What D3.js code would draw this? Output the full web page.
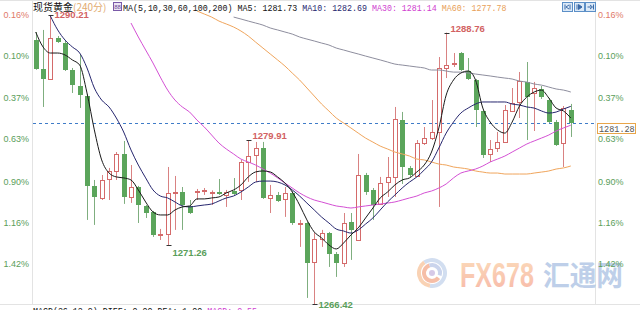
<!DOCTYPE html>
<html lang="zh">
<head>
<meta charset="UTF-8">
<title>现货黄金 240分</title>
<style>
  body { margin: 0; background: #ffffff; }
  #chart { width: 640px; height: 310px; overflow: hidden; }
  text { font-family: "Liberation Sans", Arial, sans-serif; }
  .mono { font-family: "Liberation Mono", "DejaVu Sans Mono", monospace; }
  .cjk { font-family: "Noto Sans CJK SC", sans-serif; }
</style>
</head>
<body>
<div id="chart"></div>
<script src="https://d3js.org/d3.v7.min.js"></script>
<script>
// ---- candle data (240 minute bars, oldest first) ----
const opens = [1288.15,1285.77,1284.94,1288.32,1287.91,1285.68,1284.37,1283.54,1276.14,1275.15,
  1276.71,1277.37,1278.77,1275.23,1276.05,1274.49,1274.00,1272.10,1272.19,1275.52,
  1275.64,1274.49,1275.64,1275.68,1275.60,1275.64,1275.40,1275.73,1275.81,1278.11,
  1278.69,1279.26,1275.15,1275.40,1275.07,1275.56,1273.01,1273.09,1269.88,1271.77,
  1272.27,1270.54,1269.80,1273.17,1271.69,1277.04,1275.81,1274.66,1276.47,1276.88,
  1281.57,1277.62,1276.96,1279.68,1280.09,1280.58,1285.85,1286.18,1287.08,1285.60,
  1284.86,1282.31,1278.77,1279.26,1279.76,1282.31,1283.05,1284.70,1283.79,1284.12,
  1283.21,1281.40,1279.68,1282.39];
const closes = [1285.77,1284.94,1288.32,1287.99,1285.68,1284.45,1283.63,1276.14,1275.23,1276.63,
  1277.37,1278.77,1275.23,1276.05,1274.57,1273.91,1272.10,1272.19,1275.56,1275.60,
  1274.57,1273.91,1275.73,1275.77,1275.68,1275.48,1275.64,1275.48,1278.11,1278.61,
  1279.26,1275.15,1275.40,1274.90,1275.56,1273.09,1273.09,1269.80,1271.77,1272.27,
  1270.54,1269.80,1273.09,1272.52,1277.04,1275.64,1274.57,1276.38,1276.88,1281.65,
  1277.70,1277.04,1279.68,1280.09,1280.58,1285.85,1286.09,1286.26,1285.68,1284.94,
  1282.39,1278.69,1279.18,1279.76,1282.39,1282.97,1284.78,1283.46,1284.20,1283.46,
  1281.40,1279.51,1282.56,1281.28];
const highs = [1288.81,1288.98,1290.21,1288.48,1288.07,1285.85,1286.92,1283.71,1276.63,1277.04,
  1277.62,1278.93,1279.84,1277.86,1276.14,1274.57,1274.08,1272.60,1277.70,1276.96,
  1276.05,1274.98,1275.89,1275.97,1275.77,1276.71,1275.81,1276.79,1278.28,1279.91,
  1279.76,1279.76,1276.22,1275.64,1276.05,1275.73,1273.34,1273.17,1272.27,1272.52,
  1272.35,1270.70,1273.91,1273.91,1278.77,1277.21,1275.97,1276.88,1278.52,1282.64,
  1282.23,1277.78,1279.92,1280.99,1283.21,1286.75,1288.76,1287.08,1287.16,1286.67,
  1284.94,1282.39,1279.92,1280.58,1282.80,1284.20,1285.52,1286.34,1284.70,1284.37,
  1283.38,1281.57,1282.72,1282.89];
const lows = [1285.70,1282.64,1284.90,1287.91,1285.60,1283.79,1282.56,1273.34,1272.93,1274.98,
  1274.98,1276.63,1274.66,1274.74,1273.09,1273.50,1271.94,1271.69,1271.26,1272.52,
  1272.52,1273.83,1274.98,1275.40,1274.57,1275.40,1274.41,1275.40,1274.98,1276.47,
  1276.47,1275.07,1273.91,1274.82,1273.59,1272.93,1271.12,1266.92,1266.42,1271.12,
  1269.47,1268.65,1269.47,1270.05,1271.61,1275.40,1273.34,1274.57,1275.23,1275.23,
  1276.30,1276.88,1276.88,1279.51,1279.92,1274.41,1285.02,1285.93,1285.60,1284.86,
  1280.99,1278.44,1278.11,1278.93,1279.68,1282.23,1281.73,1279.92,1280.66,1283.30,
  1281.32,1279.43,1277.70,1280.17];

// ---- moving averages as drawn (start = index of first visible bar) ----
const ma5Start = 0;
const ma5 = [1288.81,1287.58,1287.08,1287.08,1286.92,1286.51,1286.09,1283.79,1280.75,1278.28,
  1277.21,1276.88,1276.80,1276.63,1275.81,1274.82,1274.00,1273.75,1273.75,1274.16,
  1274.41,1274.49,1275.07,1275.07,1275.15,1275.23,1275.56,1275.81,1276.22,1276.88,
  1277.29,1277.37,1277.29,1276.88,1276.38,1275.64,1274.57,1273.34,1272.35,1271.86,
  1271.28,1270.95,1271.44,1272.10,1272.68,1273.50,1274.32,1275.15,1275.64,1276.22,
  1276.63,1276.80,1277.29,1277.86,1278.93,1280.91,1283.62,1284.86,1285.43,1285.60,
  1284.86,1282.55,1281.40,1280.75,1280.49,1281.40,1282.72,1283.46,1283.87,1284.03,
  1283.38,1282.55,1282.31,1281.73];
const ma10Start = 2;
const ma10 = [1290.13,1288.98,1288.15,1287.58,1287.08,1285.85,1284.20,1283.21,1282.64,1281.73,
  1280.58,1279.10,1277.86,1276.80,1275.81,1275.31,1275.15,1274.82,1274.49,1274.41,
  1274.49,1274.57,1274.65,1274.90,1275.15,1275.31,1275.64,1276.05,1276.46,1276.54,
  1276.54,1276.46,1276.22,1275.81,1275.31,1274.73,1274.16,1273.58,1273.09,1272.59,
  1272.43,1272.26,1272.51,1273.00,1273.50,1274.16,1274.82,1275.39,1275.97,1276.46,
  1276.88,1277.45,1278.11,1279.26,1280.49,1281.40,1282.14,1282.55,1282.88,1283.05,
  1283.05,1283.05,1283.05,1282.88,1282.80,1282.64,1282.55,1282.31,1282.14,1282.22,
  1282.47,1282.69];
const ma30Start = 13;
const ma30 = [1289.55,1288.40,1287.33,1286.26,1285.10,1284.03,1283.21,1282.64,1282.22,1281.56,
  1280.99,1280.33,1279.67,1279.18,1278.77,1278.35,1278.11,1277.86,1277.53,1277.20,
  1276.80,1276.38,1275.97,1275.56,1275.23,1274.98,1274.82,1274.65,1274.49,1274.41,
  1274.32,1274.41,1274.49,1274.57,1274.65,1274.73,1274.82,1274.98,1275.15,1275.31,
  1275.56,1275.72,1275.97,1276.30,1276.80,1277.20,1277.37,1277.53,1277.78,1278.11,
  1278.35,1278.60,1278.93,1279.26,1279.59,1279.84,1280.08,1280.33,1280.66,1280.91,
  1281.14];
const ma60Start = 22;
const ma60 = [1290.54,1290.29,1290.04,1289.71,1289.47,1289.22,1288.89,1288.48,1287.98,1287.49,
  1287.00,1286.51,1286.01,1285.43,1284.86,1284.20,1283.54,1282.88,1282.31,1281.73,
  1281.32,1280.91,1280.49,1280.08,1279.75,1279.42,1279.18,1278.93,1278.77,1278.60,
  1278.35,1278.28,1278.11,1277.94,1277.86,1277.70,1277.62,1277.53,1277.37,1277.28,
  1277.20,1277.20,1277.12,1277.12,1277.12,1277.12,1277.20,1277.28,1277.37,1277.53,
  1277.62,1277.78];
const ma100Start = 27;
const ma100 = [1290.04,1289.88,1289.71,1289.55,1289.38,1289.14,1288.98,1288.81,1288.64,1288.40,
  1288.23,1288.07,1287.90,1287.74,1287.49,1287.33,1287.16,1287.00,1286.83,1286.67,
  1286.51,1286.34,1286.17,1286.09,1286.01,1285.93,1285.85,1285.68,1285.68,1285.60,
  1285.51,1285.51,1285.43,1285.35,1285.27,1285.19,1285.10,1285.02,1284.94,1284.77,
  1284.69,1284.53,1284.44,1284.28,1284.12,1284.03,1283.87];

// ---- marked extremes ----
const extremes = [
  { i: 2, v: 1290.21, kind: "high" },
  { i: 56, v: 1288.76, kind: "high" },
  { i: 29, v: 1279.91, kind: "high" },
  { i: 18, v: 1271.26, kind: "low" },
  { i: 38, v: 1266.42, kind: "low" }
];

// ---- percent axis ticks ----
const pctTicks = [0.16, -0.10, -0.37, -0.63, -0.90, -1.16, -1.42];

const W = 640, H = 310;
const plot = { left: 33, right: 596, top: 0, bottom: 305 };
const upColor = "#d46a6a", downColor = "#5ba55b", downWick = "#7fae7f";
const fmt = d3.format(".2f");

const svg = d3.select("#chart").append("svg")
    .attr("width", W)
    .attr("height", H);

const idx = d3.range(opens.length);
const x = d3.scalePoint().domain(idx).range([35.7, 570.8]);
const y = d3.scaleLinear().domain([1290.21, 1266.42]).range([15, 304]);
const yPct = d3.scaleLinear().domain([0.16, -1.42]).range([14.5, 263.5]);

svg.append("defs").append("clipPath").attr("id", "clip")
  .append("rect")
    .attr("x", plot.left).attr("y", plot.top)
    .attr("width", plot.right - plot.left).attr("height", plot.bottom - plot.top);

// frame
const frame = svg.append("g").attr("stroke", "#e3e3e3").attr("stroke-width", 1);
frame.append("line").attr("x1", 0).attr("x2", W).attr("y1", 0.5).attr("y2", 0.5);
frame.append("line").attr("x1", plot.left - 0.5).attr("x2", plot.left - 0.5).attr("y1", 0).attr("y2", plot.bottom);
frame.append("line").attr("x1", plot.right - 0.5).attr("x2", plot.right - 0.5).attr("y1", 0).attr("y2", plot.bottom);
frame.append("line").attr("x1", 0).attr("x2", W).attr("y1", plot.bottom - 0.5).attr("y2", plot.bottom - 0.5);

// watermark (behind everything)
const wm = svg.append("g").attr("opacity", 0.75);
const logo = wm.append("g").attr("transform", "translate(432,273)");
logo.append("path").attr("d", d3.arc()({ innerRadius: 11, outerRadius: 15, startAngle: -0.2 * Math.PI, endAngle: 1.05 * Math.PI })).attr("fill", "#c3d3ec");
logo.append("path").attr("d", d3.arc()({ innerRadius: 11, outerRadius: 15, startAngle: 1.05 * Math.PI, endAngle: 1.8 * Math.PI })).attr("fill", "#f7c49c");
logo.append("path").attr("d", d3.arc()({ innerRadius: 6, outerRadius: 10, startAngle: 0.7 * Math.PI, endAngle: 1.9 * Math.PI })).attr("fill", "#f4a98a");
logo.append("path").attr("d", d3.arc()({ innerRadius: 6, outerRadius: 10, startAngle: -0.1 * Math.PI, endAngle: 0.6 * Math.PI })).attr("fill", "#b9c6e6");
logo.append("circle").attr("r", 3).attr("fill", "#c9b8e0");

const grad = svg.select("defs").append("linearGradient").attr("id", "fxgrad")
    .attr("x1", 0).attr("x2", 0).attr("y1", 0).attr("y2", 1);
grad.append("stop").attr("offset", "0%").attr("stop-color", "#fbd2a4");
grad.append("stop").attr("offset", "100%").attr("stop-color", "#f5a08c");
wm.append("text")
    .attr("x", 460).attr("y", 287)
    .attr("textLength", 74).attr("lengthAdjust", "spacingAndGlyphs")
    .style("font-size", "35px").style("font-weight", "bold")
    .attr("fill", "url(#fxgrad)")
    .text("FX678");
wm.append("text")
    .attr("class", "cjk")
    .attr("x", 543).attr("y", 286)
    .attr("textLength", 80).attr("lengthAdjust", "spacingAndGlyphs")
    .style("font-size", "28px").style("font-weight", "bold")
    .attr("fill", "#a9bfe2")
    .text("汇通网");

// current price dashed line
const last = closes[closes.length - 1];
svg.append("line")
    .attr("x1", plot.left).attr("x2", plot.right)
    .attr("y1", Math.round(y(last)) + 0.5).attr("y2", Math.round(y(last)) + 0.5)
    .attr("stroke", "#3f7cc8").attr("stroke-dasharray", "3,3");

// candles
const body = svg.append("g").attr("clip-path", "url(#clip)");
const candle = body.selectAll("g.candle").data(idx).join("g").attr("class", "candle");
const cx = i => Math.round(x(i)) + 0.5;
const isUp = i => closes[i] >= opens[i];

candle.append("line")
    .attr("x1", cx).attr("x2", cx)
    .attr("y1", i => y(highs[i])).attr("y2", i => y(lows[i]))
    .attr("stroke", i => isUp(i) ? "#d98282" : downWick);

candle.filter(isUp).append("rect")
    .attr("x", i => cx(i) - 2)
    .attr("width", 4)
    .attr("y", i => Math.round(y(closes[i])) + 0.5)
    .attr("height", i => Math.max(1, Math.round(y(opens[i]) - y(closes[i]))))
    .attr("fill", "#ffffff")
    .attr("stroke", upColor);

candle.filter(i => !isUp(i)).append("rect")
    .attr("x", i => cx(i) - 2.5)
    .attr("width", 5)
    .attr("y", i => Math.round(y(opens[i])))
    .attr("height", i => Math.max(1.5, Math.round(y(closes[i]) - y(opens[i]))))
    .attr("fill", downColor);

// moving averages
const maSeries = [
  { values: ma100, start: ma100Start, color: "#8e8e9e" },
  { values: ma60, start: ma60Start, color: "#f0a55c" },
  { values: ma30, start: ma30Start, color: "#d450d4" },
  { values: ma10, start: ma10Start, color: "#26266e" },
  { values: ma5, start: ma5Start, color: "#1a1a1a" }
];
maSeries.forEach(s => {
  const line = d3.line()
      .x((v, j) => x(s.start + j))
      .y(v => y(v))
      .curve(d3.curveMonotoneX);
  body.append("path")
      .attr("d", line(s.values))
      .attr("fill", "none")
      .attr("stroke", s.color)
      .attr("stroke-width", 1);
});

// extreme markers + labels
const ex = svg.append("g");
extremes.forEach(e => {
  const px = cx(e.i), py = Math.round(y(e.v)) + 0.5;
  ex.append("line").attr("x1", px - 2).attr("x2", px + 3).attr("y1", py).attr("y2", py)
      .attr("stroke", "#333");
  const ty = e.kind === "high" ? Math.max(py - 2, 18) : Math.min(py + 10, 308);
  ex.append("text")
      .attr("x", px + 4).attr("y", ty)
      .style("font-size", "9.5px").style("font-weight", "bold")
      .attr("fill", e.kind === "high" ? "#d26262" : "#5a9e5a")
      .text(fmt(e.v));
});

// percent axes
const pctFmt = v => fmt(Math.abs(v)) + "%";
const pctColor = v => v > 0 ? "#e07a6a" : "#5a9e5a";
const axR = svg.append("g")
    .attr("transform", `translate(${plot.right + 1},0)`)
    .call(d3.axisRight(yPct).tickValues(pctTicks).tickFormat(pctFmt).tickSize(0).tickPadding(1));
const axL = svg.append("g")
    .attr("transform", `translate(${plot.left - 4},0)`)
    .call(d3.axisLeft(yPct).tickValues(pctTicks).tickFormat(pctFmt).tickSize(0).tickPadding(0));
[axR, axL].forEach(a => {
  a.select(".domain").remove();
  a.selectAll("text")
      .style("font-family", "'Liberation Sans', Arial, sans-serif")
      .style("font-size", "9px")
      .attr("fill", d => pctColor(d));
});

// current price box
const ly = Math.round(y(last));
svg.append("rect")
    .attr("x", 597.5).attr("y", ly + 0.5)
    .attr("width", 38).attr("height", 10)
    .attr("fill", "#ffffff").attr("stroke", "#e9a64a");
svg.append("text")
    .attr("class", "mono")
    .attr("x", 599).attr("y", ly + 8.5)
    .style("font-size", "8.5px")
    .attr("fill", "#555")
    .text(fmt(last));

// legend row
const title = svg.append("text").attr("y", 10.5);
title.append("tspan").attr("class", "cjk").attr("x", 33).style("font-size", "10px").attr("fill", "#111").text("现货黄金");
title.append("tspan").attr("class", "cjk").style("font-size", "10px").attr("fill", "#e2ab70").text("(240分)");

const icon = svg.append("g").attr("transform", "translate(113.5,2.5)");
icon.append("rect").attr("width", 8).attr("height", 8).attr("fill", "#ece4f4").attr("stroke", "#7a5aa8");
icon.append("text").attr("x", 4).attr("y", 6.5).attr("text-anchor", "middle")
    .style("font-size", "6px").attr("fill", "#6a4a98").text("88");

const legendItems = [
  { label: "MA(5,10,30,60,100,200)", color: "#111" },
  { label: "MA5: " + fmt(ma5[ma5.length - 1]), color: "#111" },
  { label: "MA10: " + fmt(ma10[ma10.length - 1]), color: "#26266e" },
  { label: "MA30: " + fmt(ma30[ma30.length - 1]), color: "#d040d0" },
  { label: "MA60: " + fmt(ma60[ma60.length - 1]), color: "#e8a058" }
];
const leg = svg.append("text").attr("class", "mono").attr("x", 123).attr("y", 10.5)
    .style("font-size", "8.3px");
legendItems.forEach((d, k) => {
  leg.append("tspan").attr("fill", d.color).text((k ? " " : "") + d.label);
});

// top-right navigation buttons
const btnX = [562, 574, 585];
btnX.forEach((bx, k) => {
  const b = svg.append("g").attr("transform", `translate(${bx + 0.5},2.5)`);
  b.append("rect").attr("width", 10).attr("height", 9).attr("fill", "#dbe9f7").attr("stroke", "#5b8fc7");
  if (k === 0) {
    b.append("path").attr("d", "M2.5,2v5M7.5,2v5M6.5,2.5L3.5,4.5L6.5,6.5").attr("stroke", "#3a6aa8").attr("fill", "none");
  } else if (k === 1) {
    b.append("path").attr("d", "M2.5,2v5M4,2L7.5,4.5L4,7Z").attr("stroke", "#3a6aa8").attr("fill", "#3a6aa8");
  } else {
    b.append("path").attr("d", "M2,4.5h4M4.5,2.5L7,4.5L4.5,6.5M8,2v5").attr("stroke", "#3a6aa8").attr("fill", "none");
  }
});

// MACD caption, mostly cut off by the bottom edge
const macd = svg.append("text").attr("class", "mono").attr("x", 33).attr("y", 313.5)
    .style("font-size", "8.3px");
macd.append("tspan").attr("fill", "#111").text("MACD(26,12,9) DIFF: 0.00 DEA: 1.00 ");
macd.append("tspan").attr("fill", "#d040d0").text("MACD: 0.55");
</script>
</body>
</html>
